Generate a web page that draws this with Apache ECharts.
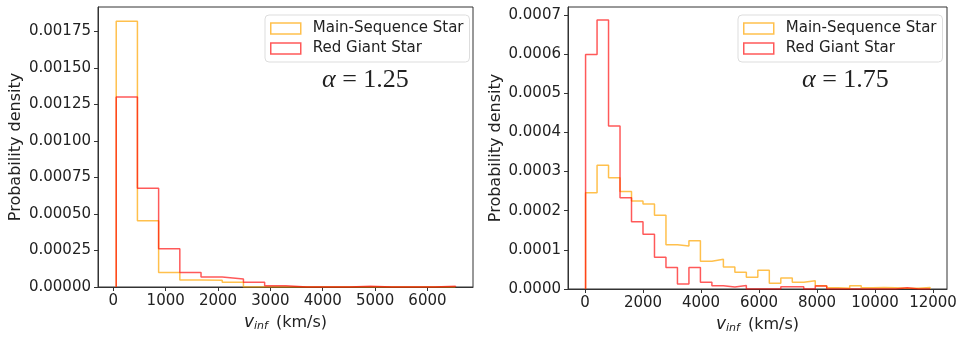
<!DOCTYPE html>
<html>
<head>
<meta charset="utf-8">
<script src="https://cdn.jsdelivr.net/npm/echarts@6/dist/echarts.min.js"></script>
<style>
  html, body { margin: 0; padding: 0; background: #fff; }
  #chart { width: 960px; height: 343px; }
</style>
</head>
<body>
<div id="chart"></div>
<script>
// bin edges (km/s) and densities
const leftEdges = [55, 460, 865, 1270, 1675, 2080, 2485, 2890, 3295, 3700, 4105, 4510, 4915, 5320, 5725, 6130, 6535]
const leftMain = [0.00182, 0.000453, 0.0001, 0.000048, 0.000046, 0.000032, 0, 0, 0, 0, 0, 0, 0, 0, 0, 0]
const leftRed = [0.0013, 0.000676, 0.000262, 0.0001, 0.000068, 0.000055, 0.000032, 0.000009, 0, 0, 0, 0.000005, 0, 0, 0, 0.000005]

const rightEdges = [20, 416, 812, 1208, 1604, 2000, 2396, 2792, 3188, 3584, 3980, 4376, 4772, 5168, 5564, 5960,
  6356, 6752, 7148, 7544, 7940, 8336, 8732, 9128, 9524, 9920, 10316, 10712, 11108, 11504, 11900]
const rightMain = [0.000246, 0.000316, 0.000284, 0.000249, 0.000225, 0.000217, 0.000188, 0.000113, 0.00011, 0.000123,
  0.000071, 0.000076, 0.000056, 0.000043, 0.00003, 0.000048, 0.000015, 0.000028, 0.000017, 0.000021,
  0.0000085, 0.000003, 0.000002, 0.0000085, 0.000003, 0.000004, 0.000003, 0.000002, 0.000002, 0.000004]
const rightRed = [0.000599, 0.000687, 0.000416, 0.000233, 0.000172, 0.00014, 0.000081, 0.000055, 0.000013, 0.000055,
  0.000017, 0.0000085, 0.000005, 0.000009, 0, 0, 0, 0.000006, 0.000006, 0,
  0.0000077, 0, 0, 0, 0, 0, 0, 0.000003, 0, 0]

const leftXTicks = [0, 1000, 2000, 3000, 4000, 5000, 6000]
const rightXTicks = [0, 2000, 4000, 6000, 8000, 10000, 12000]

const ORANGE = 'rgba(255,165,0,0.7)'
const RED = 'rgba(255,0,0,0.65)'
const TXT = '#222'
const FONT = 'DejaVu Sans'

// histtype='step' outline
function stepPoints(edges, heights) {
  const pts = [[edges[0], 0]]
  heights.forEach((h, i) => pts.push([edges[i], h]))
  pts.push([edges[edges.length - 1], 0])
  return pts
}

function xAxis(idx, min, max, ticks) {
  return {
    type: 'value', gridIndex: idx, min: min, max: max,
    splitLine: { show: false },
    axisLine: { onZero: false, lineStyle: { color: '#333' } },
    axisTick: { customValues: ticks, length: 4, lineStyle: { color: '#333' } },
    axisLabel: { customValues: ticks, color: TXT, fontSize: 15, fontFamily: FONT, margin: 7,
      formatter: v => String(v) },
    name: '{v|v}{s|inf} (km/s)',
    nameLocation: 'middle', nameGap: 24,
    nameTextStyle: {
      color: TXT, fontSize: 16, fontFamily: FONT,
      rich: {
        v: { fontStyle: 'italic', fontSize: 17, fontFamily: FONT, color: TXT },
        s: { fontStyle: 'italic', fontSize: 11, fontFamily: FONT, color: TXT, padding: [8, 3, 0, 0] }
      }
    }
  }
}

function yAxis(idx, max, interval, digits, gap) {
  return {
    type: 'value', gridIndex: idx, min: 0, max: max, interval: interval,
    splitLine: { show: false },
    axisLine: { show: true, onZero: false, lineStyle: { color: '#333' } },
    axisTick: { show: true, length: 4, lineStyle: { color: '#333' } },
    axisLabel: { color: TXT, fontSize: 15, fontFamily: FONT, margin: 7, showMaxLabel: false,
      formatter: v => v.toFixed(digits) },
    name: 'Probability density', nameLocation: 'middle', nameGap: gap,
    nameTextStyle: { color: TXT, fontSize: 16, fontFamily: FONT }
  }
}

function legend(left) {
  return {
    left: left, top: 15, orient: 'vertical',
    data: ['Main-Sequence Star', 'Red Giant Star'],
    icon: 'rect', itemWidth: 30, itemHeight: 11, itemGap: 5,
    padding: [6, 6, 6, 5],
    backgroundColor: '#fff', borderColor: '#ddd', borderWidth: 1, borderRadius: 4,
    selectedMode: false,
    itemStyle: { color: 'transparent', borderWidth: 1.5 },
    textStyle: { color: TXT, fontSize: 15, fontFamily: FONT, padding: [0, 0, 0, 7] }
  }
}

function alphaLabel(left, text) {
  return {
    type: 'text', left: left, top: 67,
    style: {
      text: '{a|α} = ' + text, fontSize: 26, fontFamily: 'Liberation Serif', fill: '#222',
      rich: { a: { fontStyle: 'italic', fontSize: 26, fontFamily: 'Liberation Serif', fill: '#222' } }
    }
  }
}

function series(name, edges, vals, color, idx) {
  return {
    name: name, type: 'line', step: 'end', xAxisIndex: idx, yAxisIndex: idx,
    data: stepPoints(edges, vals), showSymbol: false, animation: false,
    itemStyle: { color: color, borderColor: color },
    lineStyle: { color: color, width: 1.5 }
  }
}

const chart = echarts.init(document.getElementById('chart'))
const option = {
  animation: false,
  grid: [
    { left: 98, right: 487, top: 7, bottom: 56, show: true, borderColor: '#333', borderWidth: 1 },
    { left: 568, right: 13, top: 7, bottom: 54, show: true, borderColor: '#333', borderWidth: 1 }
  ],
  xAxis: [xAxis(0, -293, 6870, leftXTicks), xAxis(1, -586, 12483, rightXTicks)],
  yAxis: [yAxis(0, 0.001917, 0.00025, 5, 74), yAxis(1, 0.00072, 0.0001, 4, 64)],
  legend: [legend(265), legend(738)],
  graphic: [alphaLabel(322, '1.25'), alphaLabel(802, '1.75')],
  series: [
    series('Main-Sequence Star', leftEdges, leftMain, ORANGE, 0),
    series('Red Giant Star', leftEdges, leftRed, RED, 0),
    series('Main-Sequence Star', rightEdges, rightMain, ORANGE, 1),
    series('Red Giant Star', rightEdges, rightRed, RED, 1)
  ]
}
option && chart.setOption(option)
</script>
</body>
</html>
